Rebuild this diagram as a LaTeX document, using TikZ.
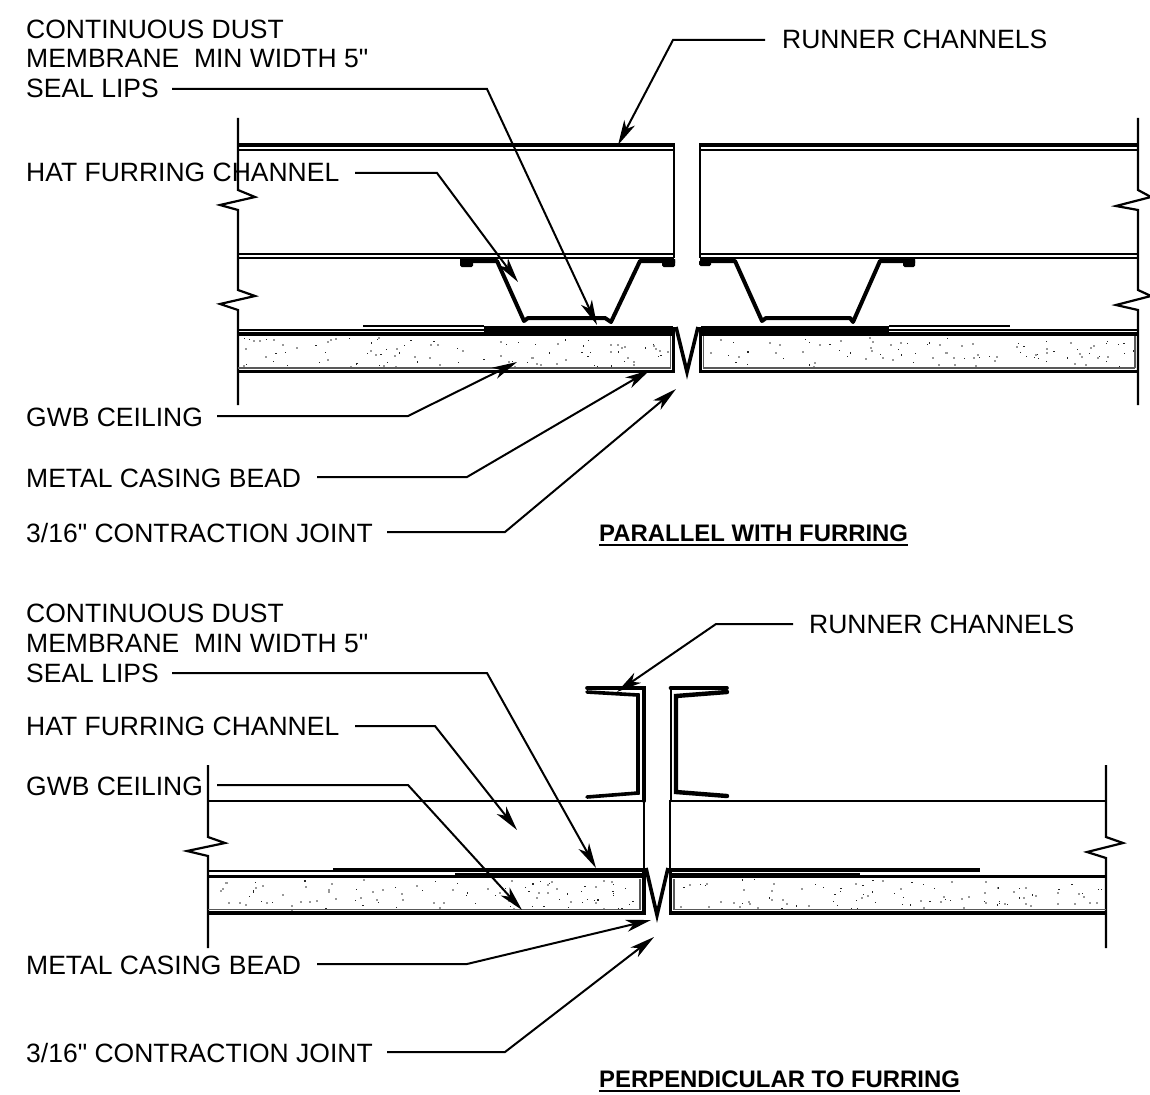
\documentclass[tikz,border=0pt]{standalone}
\usepackage{fontspec}
\newfontfamily\labfont{Liberation Sans}
\usetikzlibrary{arrows.meta}
\tikzset{
  lab/.style={anchor=base west,inner sep=0pt,font=\labfont\fontsize{26.5}{26}\selectfont,text=black},
  ttl/.style={anchor=base west,inner sep=0pt,font=\labfont\fontsize{23.9}{26}\bfseries\selectfont,text=black},
  uline/.style={line width=2.6pt},
  leader/.style={line width=2pt,-{Stealth[length=25pt,width=12pt,inset=7pt]},line join=miter},
  thin line/.style={line width=2pt},
  gray line/.style={line width=1.6pt,draw=black!65},
  mid line/.style={line width=2.6pt},
  heavy/.style={line width=3.6pt},
  cut/.style={line width=2.2pt,line join=miter},
  dotA/.style={fill=black!85,draw=none},
  dotB/.style={fill=black!40,draw=none}
}
\newcommand{\stipple}[4]{%
  \foreach \i in {1,...,#1}{%
    \pgfmathsetmacro{\xx}{#2+rnd*(#3-#2)}%
    \pgfmathsetmacro{\yy}{#4+rnd*30}%
    \fill[dotA] (\xx,\yy) rectangle ++(1.2,1.2);
    \pgfmathsetmacro{\xx}{#2+rnd*(#3-#2)}%
    \pgfmathsetmacro{\yy}{#4+rnd*30}%
    \fill[dotB] (\xx,\yy) rectangle ++(2,2);
  }%
}
\begin{document}
\begin{tikzpicture}[x=1pt,y=-1pt]
\useasboundingbox[fill=white] (0,0) rectangle (1150,1094);
\pgfmathsetseed{4711}
% ---------- top detail ----------
\stipple{50}{242}{668}{337}
\stipple{50}{706}{1134}{337}
% break lines
\draw[cut] (238,118) -- (238,190) -- (255,197) -- (220,205) -- (238,210) -- (238,290) -- (255,296) -- (220,304) -- (238,310) -- (238,405);
\draw[cut] (1138,118) -- (1138,190) -- (1151,197) -- (1116,206) -- (1138,210) -- (1138,290) -- (1151,296) -- (1116,305) -- (1138,310) -- (1138,405);
% runner
\draw[heavy] (238,145) -- (675,145);
\draw[heavy] (699,145) -- (1138,145);
\draw[mid line] (674,145) -- (674,258);
\draw[mid line] (700,145) -- (700,258);
\draw[mid line] (238,150) -- (674,150);
\draw[mid line] (700,150) -- (1138,150);
\draw[thin line] (238,254) -- (674,254);
\draw[thin line] (700,254) -- (1138,254);
\draw[thin line] (238,258) -- (674,258);
\draw[thin line] (700,258) -- (1138,258);
% hat channels
\draw[heavy,line width=4pt,line join=round] (460,261) -- (497,261) -- (524,321) -- (528,318) -- (605,318) -- (611,322) -- (640,261) -- (675,261);
\fill[rounded corners=1.5pt] (460,259) rectangle (473,267);
\fill[rounded corners=1.5pt] (662,259) rectangle (675,267);
\draw[heavy,line width=4pt,line join=round] (700,261) -- (735,261) -- (762,321) -- (766,318) -- (850,318) -- (853,322) -- (880,261) -- (915,261);
\fill[rounded corners=1.5pt] (699,260) rectangle (711,266);
\fill[rounded corners=1.5pt] (903,259) rectangle (915,267);
% membrane & panels
\draw[thin line] (363,325.5) -- (484,325.5);
\draw[thin line] (889,325.5) -- (1010,325.5);
\draw[thin line] (238,329.5) -- (484,329.5);
\draw[thin line] (889,329.5) -- (1138,329.5);
\draw[heavy] (238,334) -- (673,334);
\draw[heavy] (701,334) -- (1138,334);
\fill (484,325.5) rectangle (673,335.5);
\fill (701,325.5) rectangle (889,335.5);
\draw[gray line] (238,368) -- (670.5,368) -- (670.5,336);
\draw[gray line] (1135,368) -- (703.5,368) -- (703.5,336);
\draw[gray line] (1135,336) -- (1135,368);
\draw[heavy] (238,371.5) -- (673.5,371.5) -- (673.5,327);
\draw[heavy] (1138,371.5) -- (700.5,371.5) -- (700.5,327);
\draw[heavy,line join=miter] (676,327) -- (687,372) -- (698,327);
% ---------- bottom detail ----------
\stipple{50}{212}{636}{879}
\stipple{50}{677}{1102}{879}
\draw[cut] (208,765) -- (208,837) -- (225,843) -- (187,851) -- (208,856) -- (208,948);
\draw[cut] (1106,765) -- (1106,837) -- (1123,843) -- (1087,852) -- (1106,858) -- (1106,948);
\draw[thin line] (208,801) -- (644,801) -- (644,870);
\draw[thin line] (1106,801) -- (670,801) -- (670,870);
% C runner channels
\draw[heavy,line cap=round] (587,688) -- (644,688) -- (644,801);
\draw[heavy,line cap=round] (727,688) -- (670.5,688);
\draw[thin line] (670.5,688) -- (670.5,801);
\draw[heavy,line cap=round,line join=miter] (587,692) -- (638,695) -- (638,793) -- (587,797);
\draw[heavy,line width=4.4pt,line cap=round,line join=miter] (727,692) -- (676,696) -- (676,792) -- (727,796);
% membrane & panels
\draw[thin line] (208,871) -- (333,871);
\fill (333,867.5) rectangle (644,871.8);
\fill (670,867.5) rectangle (980,871.8);
\draw[heavy] (208,876.5) -- (645,876.5);
\draw[heavy] (670,876.5) -- (1106,876.5);
\fill (455,873) rectangle (645,878.3);
\fill (670,873) rectangle (860,878.3);
\draw[gray line] (208,909.5) -- (640,909.5) -- (640,879);
\draw[gray line] (1106,909.5) -- (674,909.5) -- (674,879);
\draw[heavy] (208,913) -- (644,913) -- (644,870);
\draw[heavy] (1106,913) -- (670.5,913) -- (670.5,870);
\draw[heavy,line join=miter] (646,868) -- (657,915) -- (668,868);
% ---------- labels top ----------
\node[lab] (a1) at (26,39) {CONTINUOUS DUST};
\node[lab] (a2) at (26,68) {MEMBRANE\ \ MIN WIDTH 5"};
\node[lab] (a3) at (26,98) {SEAL LIPS};
\node[lab] (a4) at (782,49) {RUNNER CHANNELS};
\node[lab] (a5) at (26,182) {HAT FURRING CHANNEL};
\node[lab] (a6) at (26,426) {GWB CEILING};
\node[lab] (a7) at (26,487) {METAL CASING BEAD};
\node[lab] (a8) at (26,542) {3/16" CONTRACTION JOINT};
\node[ttl] (t1) at (599,541) {PARALLEL WITH FURRING};
\draw[uline] ([yshift=-4pt]t1.base west) -- ([yshift=-4pt]t1.base east);
% ---------- labels bottom ----------
\node[lab] (b1) at (26,622) {CONTINUOUS DUST};
\node[lab] (b2) at (26,652) {MEMBRANE\ \ MIN WIDTH 5"};
\node[lab] (b3) at (26,682) {SEAL LIPS};
\node[lab] (b4) at (809,633) {RUNNER CHANNELS};
\node[lab] (b5) at (26,735) {HAT FURRING CHANNEL};
\node[lab] (b6) at (26,795) {GWB CEILING};
\node[lab] (b7) at (26,974) {METAL CASING BEAD};
\node[lab] (b8) at (26,1062) {3/16" CONTRACTION JOINT};
\node[ttl] (t2) at (599,1087) {PERPENDICULAR TO FURRING};
\draw[uline] ([yshift=-4pt]t2.base west) -- ([yshift=-4pt]t2.base east);
% ---------- leaders ----------
\coordinate (a3s) at (172,89); \coordinate (a3e) at (597,325);
\coordinate (a4s) at (765,40); \coordinate (a4e) at (618,145);
\coordinate (a5s) at (355,173); \coordinate (a5e) at (518,282);
\coordinate (a6s) at (217,416); \coordinate (a6e) at (517,362);
\coordinate (a7s) at (317,477); \coordinate (a7e) at (650,370);
\coordinate (a8s) at (387,532); \coordinate (a8e) at (676,389);
\draw[leader] (a3s) -- (487,89) -- (a3e);
\draw[leader] (a4s) -- (673,40) -- (a4e);
\draw[leader] (a5s) -- (437,173) -- (a5e);
\draw[leader] (a6s) -- (408,416) -- (a6e);
\draw[leader] (a7s) -- (467,477) -- (a7e);
\draw[leader] (a8s) -- (505,532) -- (a8e);
\coordinate (b3s) at (172,673); \coordinate (b3e) at (596,868);
\coordinate (b4s) at (793,624); \coordinate (b4e) at (617,692);
\coordinate (b5s) at (355,726); \coordinate (b5e) at (517,830);
\coordinate (b6s) at (217,785); \coordinate (b6e) at (522,910);
\coordinate (b7s) at (317,964); \coordinate (b7e) at (651,920);
\coordinate (b8s) at (387,1052); \coordinate (b8e) at (654,937);
\draw[leader] (b3s) -- (487,673) -- (b3e);
\draw[leader] (b4s) -- (716,624) -- (b4e);
\draw[leader] (b5s) -- (435,726) -- (b5e);
\draw[leader] (b6s) -- (408,785) -- (b6e);
\draw[leader] (b7s) -- (467,964) -- (b7e);
\draw[leader] (b8s) -- (505,1052) -- (b8e);
\end{tikzpicture}
\end{document}
